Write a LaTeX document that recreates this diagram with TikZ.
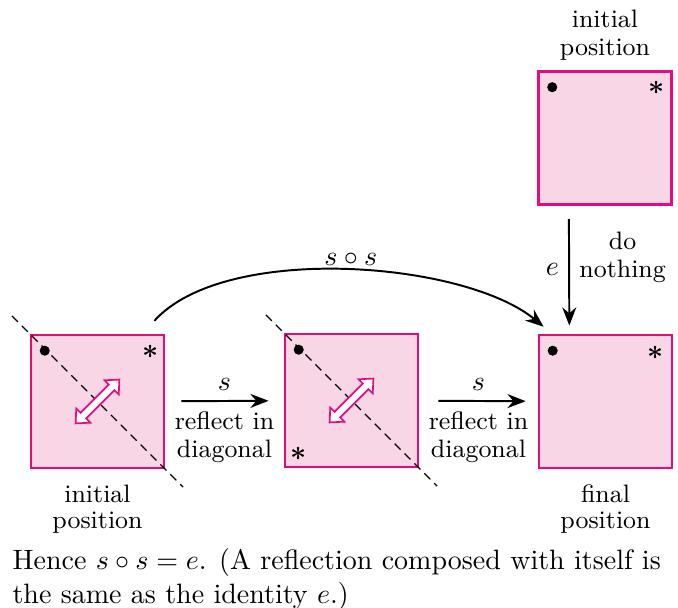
\documentclass[tikz,border=0pt]{standalone}
\usepackage{amsmath}
\usetikzlibrary{arrows.meta,positioning}
\definecolor{sqfill}{RGB}{249,214,230}
\definecolor{sqedge}{RGB}{228,10,128}
\tikzset{
  square/.style  = {shape=rectangle, draw=sqedge, fill=sqfill,
                    line width=0.9pt, minimum size=47.5pt, inner sep=0pt},
  lbl/.style     = {font=\small, align=center},
  mapping/.style = {-{Stealth[length=6.5pt,width=5pt]}, line width=0.7pt},
  mirror/.style  = {dash pattern=on 3pt off 2pt, line width=0.45pt},
  flip/.style    = {draw=sqedge, fill=white, line width=0.6pt},
  corner/.style  = {inner sep=0pt, font=\boldmath}
}

\begin{document}
\begin{tikzpicture}[x=0.357pt, y=-0.357pt]
  \useasboundingbox (0,0) rectangle (678,608);

  % the four squares
  \node [square] (init) at (97.5,401.5) {};
  \node [square] (refl) at (351.5,400.5) {};
  \node [square] (fin)  at (605.5,401.5) {};
  \node [square] (top)  at (605,138) {};

  % lines of reflection and the flip arrows
  \foreach \sq in {init, refl} {
    \draw [mirror, shorten <=-9pt, shorten >=-9pt] (\sq.north west) -- (\sq.south east);
    \draw [flip, shift={(\sq.center)}, rotate=45]
      (-31,0) -- (-20,10) -- (-20,4) -- (20,4) -- (20,10) -- (31,0)
      -- (20,-10) -- (20,-4) -- (-20,-4) -- (-20,-10) -- cycle;
  }

  % dots and stars
  \fill ([shift={(15,17)}]init.north west) circle (1.8pt);
  \node [corner] at ([shift={(-15,18)}]init.north east) {$\ast$};
  \fill ([shift={(15,17)}]refl.north west) circle (1.8pt);
  \node [corner] at ([shift={(15,-14)}]refl.south west) {$\ast$};
  \fill ([shift={(15,17)}]top.north west) circle (1.8pt);
  \node [corner] at ([shift={(-16,18)}]top.north east) {$\ast$};
  \fill ([shift={(15,17)}]fin.north west) circle (1.8pt);
  \node [corner] at ([shift={(-18,19)}]fin.north east) {$\ast$};

  % mappings
  \draw [mapping, shorten <=5.7pt, shorten >=5.4pt] (init) -- (refl)
    node [midway, above] {$s$}
    node [midway, below, lbl] {reflect in\\[-1pt]diagonal};
  \draw [mapping, shorten <=6.8pt, shorten >=4.3pt] (refl) -- (fin)
    node [midway, above] {$s$}
    node [midway, below, lbl] {reflect in\\[-1pt]diagonal};
  \draw [mapping, shorten <=4.8pt, shorten >=2.9pt]
    ([xshift=-12.9pt]top.south) -- ([xshift=-12.9pt]fin.north)
    node [midway, left] {$e$}
    node [midway, right, lbl, yshift=4.5pt] {do\\[-1.2pt]nothing};
  \draw [mapping] ([xshift=-3.9pt, yshift=4.6pt]init.north east)
    .. controls +(70,-78) and +(-80,-66) .. ([xshift=2.1pt, yshift=2.5pt]fin.north west)
    node [pos=0.5, above, xshift=2pt, yshift=-2pt] {$s\circ s$};

  % position labels
  \node [lbl, below=2pt of init] (initlbl) {initial\\[-1.8pt]position};
  \node [lbl, below=2pt of fin] (finlbl) {final\\[-1.8pt]position};
  \node [lbl, above=0pt of top] (toplbl) {initial\\[-1.2pt]position};

  % caption
  \node [anchor=north west, align=left, inner sep=0pt] (caption) at (12,548)
    {Hence $s\circ s=e$. (A reflection composed with itself is\\
     the same as the identity $e$.)};
\end{tikzpicture}
\end{document}
